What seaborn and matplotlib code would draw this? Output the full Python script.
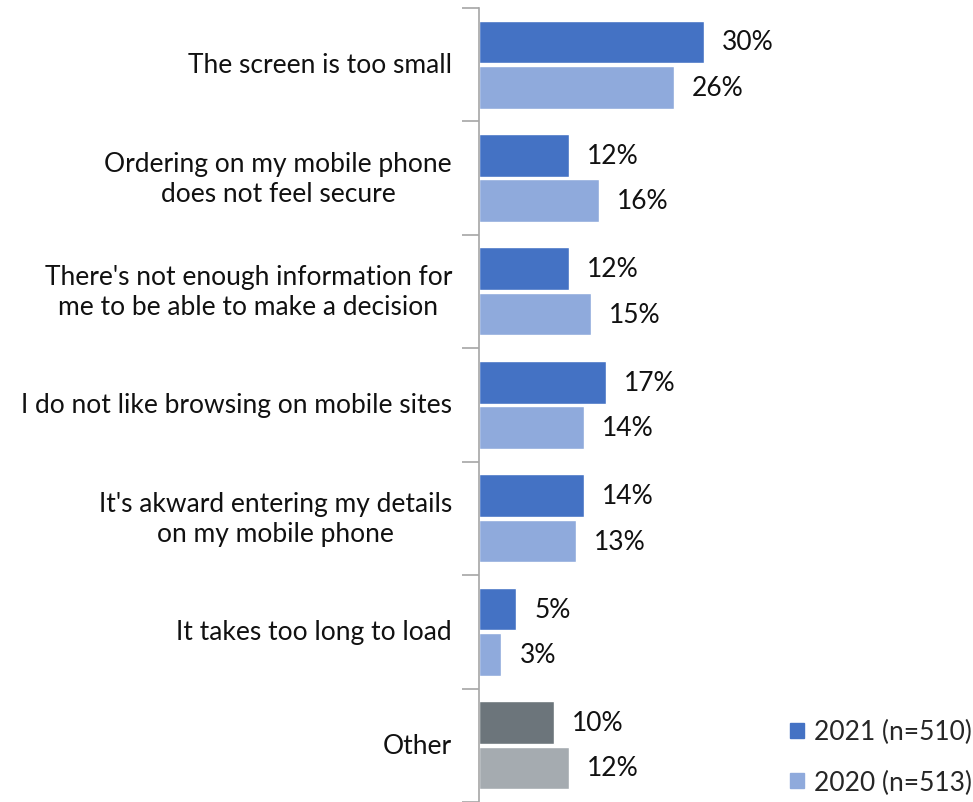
import numpy as np
import pandas as pd
import matplotlib
matplotlib.use('Agg')
import matplotlib.pyplot as plt
import seaborn as sns

# Data
categories = [
    'The screen is too small',
    'Ordering on my mobile phone\ndoes not feel secure',
    "There's not enough information for\nme to be able to make a decision",
    'I do not like browsing on mobile sites',
    "It's akward entering my details\non my mobile phone",
    'It takes too long to load',
    'Other',
]
values_2021 = [30, 12, 12, 17, 14, 5, 10]
values_2020 = [26, 16, 15, 14, 13, 3, 12]
series_names = ['2021 (n=510)', '2020 (n=513)']

color_2021 = '#4472C4'
color_2020 = '#8FAADC'
other_2021 = '#6C757B'
other_2020 = '#A5ABB0'
FS = 19

sns.set_style('white')
plt.rcParams['font.family'] = ['Lato', 'DejaVu Sans']

df = pd.DataFrame({
    'Reason': categories * 2,
    'Share': values_2021 + values_2020,
    'Year': [series_names[0]] * len(categories) + [series_names[1]] * len(categories),
})

fig = plt.figure(figsize=(9.73, 8.03), dpi=100)
ax = fig.add_axes([479 / 973, 0.0, 487 / 973, 0.989])

sns.barplot(data=df, x='Share', y='Reason', hue='Year', orient='h',
            palette=[color_2021, color_2020], saturation=1, width=0.8, gap=0.06,
            order=categories, hue_order=series_names, ax=ax, legend=False)

# recolour the "Other" bars in grey and add value labels
n = len(categories)
for ci, container in enumerate(ax.containers):
    for i, bar in enumerate(container):
        if i == n - 1:
            bar.set_facecolor(other_2021 if ci == 0 else other_2020)
        w = bar.get_width()
        ax.text(w + 2.4, bar.get_y() + bar.get_height() / 2, f'{w:.0f}%',
                va='center', ha='left', fontsize=FS, color='#111111')

ax.set_xlim(0, 65)
ax.set_ylim(n - 0.5, -0.5)
ax.set_xlabel('')
ax.set_ylabel('')
ax.set_xticks([])

# category labels: right-anchored, lines centred
ax.set_yticks(range(n))
ax.set_yticklabels([])
ax.tick_params(axis='y', length=0)
for i, cat in enumerate(categories):
    ax.annotate(cat, xy=(0, i), xycoords=('axes fraction', 'data'),
                xytext=(-27, 0), textcoords='offset pixels',
                ha='right', va='center', multialignment='center',
                fontsize=FS, color='#111111', linespacing=1.25)

# boundary tick marks
ax.set_yticks(np.arange(-0.5, n, 1.0), minor=True)
ax.tick_params(axis='y', which='minor', length=12, width=1.2, color='#A6A6A6',
               direction='out', left=True)

for side in ['top', 'right', 'bottom']:
    ax.spines[side].set_visible(False)
ax.spines['left'].set_color('#A6A6A6')
ax.spines['left'].set_linewidth(1.2)

handles = [plt.Rectangle((0, 0), 1, 1, color=color_2021),
           plt.Rectangle((0, 0), 1, 1, color=color_2020)]
fig.legend(handles, series_names, loc='lower right', bbox_to_anchor=(1.01, -0.004),
           frameon=False, fontsize=FS, handlelength=0.5, handleheight=0.5,
           handletextpad=0.4, labelspacing=0.95, borderaxespad=0.0)

fig.savefig('out.png', dpi=100)
